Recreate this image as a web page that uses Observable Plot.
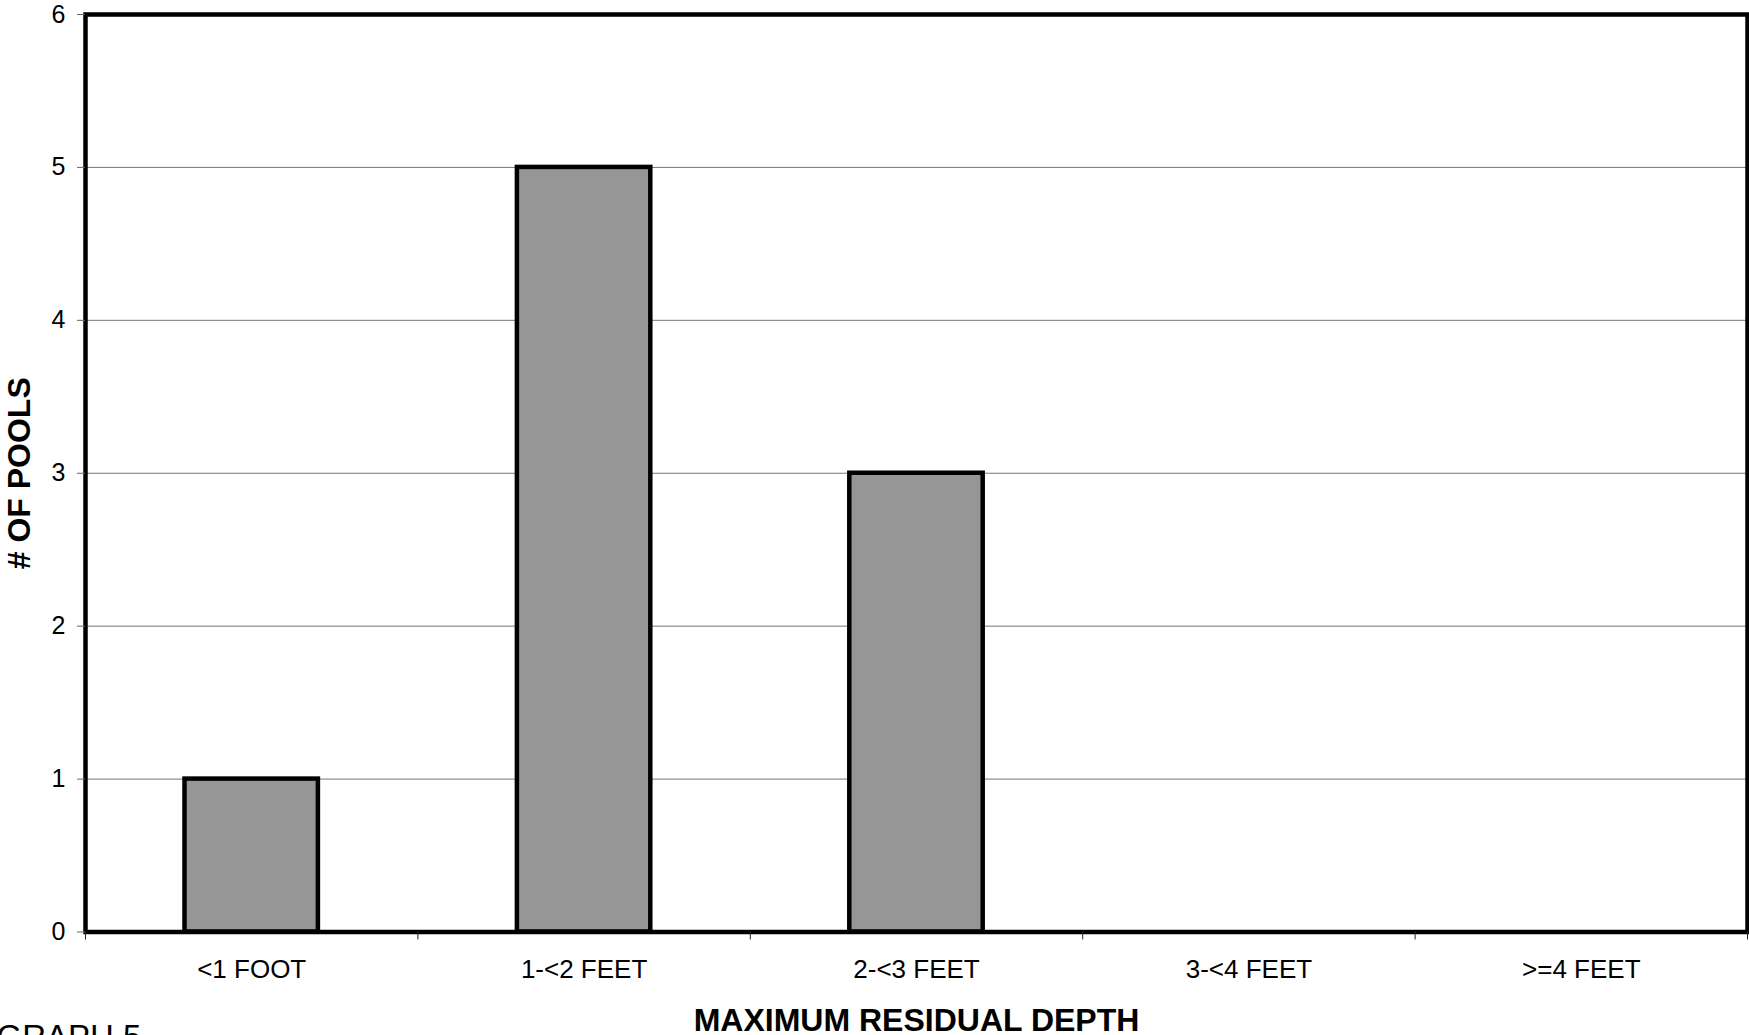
<!DOCTYPE html>
<html>
<head>
<meta charset="utf-8">
<script src="https://cdn.jsdelivr.net/npm/d3@7"></script>
<script src="https://cdn.jsdelivr.net/npm/@observablehq/plot@0.6"></script>
<style>
  html, body { margin: 0; padding: 0; background: #fff; overflow: hidden; }
  #chart svg { display: block; font-family: "Liberation Sans", Arial, sans-serif; }
</style>
</head>
<body>
<div id="chart"></div>
<script>
const categories = ["<1 FOOT", "1-<2 FEET", "2-<3 FEET", "3-<4 FEET", ">=4 FEET"];
const counts = [1, 5, 3, 0, 0];
const yTicks = [0, 1, 2, 3, 4, 5, 6];
const gridTicks = [1, 2, 3, 4, 5];
const xTitle = "MAXIMUM RESIDUAL DEPTH";
const yTitle = "# OF POOLS";
const caption = "GRAPH 5";

const data = categories.map((c, i) => ({cat: c, value: counts[i], i}));
const boundaries = d3.range(categories.length + 1);
const centers = categories.map((c, i) => i + 0.5);

const chart = Plot.plot({
  width: 1749,
  height: 1035,
  marginLeft: 85,
  marginRight: 2,
  marginTop: 14,
  marginBottom: 103.5,
  style: {fontFamily: '"Liberation Sans", Arial, sans-serif', background: "#fff", overflow: "visible"},
  x: {domain: [0, categories.length]},
  y: {domain: [0, 6]},
  marks: [
    Plot.ruleY(gridTicks, {stroke: "#777", strokeWidth: 1}),
    Plot.rectY(data, {
      x1: "i", x2: d => d.i + 1, y: "value",
      insetLeft: 99.5, insetRight: 99.5,
      fill: "#969696", stroke: "black", strokeWidth: 4.5
    }),
    Plot.frame({stroke: "black", strokeWidth: 4.5}),
    Plot.axisY({ticks: yTicks, tickSize: 8, tickPadding: 12, stroke: "#666", fill: "black", fontSize: 25,
      tickFormat: d3.format("d"), label: null}),
    Plot.axisX({ticks: boundaries, tickSize: 8, tickFormat: () => "", stroke: "#222", label: null}),
    Plot.axisX({ticks: centers, tickSize: 0, tickPadding: 28, fontSize: 26, fill: "black",
      tickFormat: d => categories[Math.floor(d)], label: null}),
    Plot.text([xTitle], {text: d => d, frameAnchor: "bottom", dy: 88.8, lineAnchor: "middle",
      textAnchor: "middle", fontSize: 32, fontWeight: "bold", fill: "black"}),
    Plot.text([yTitle], {text: d => d, frameAnchor: "left", dx: -65.5, rotate: -90, lineAnchor: "middle",
      textAnchor: "middle", fontSize: 32, fontWeight: "bold", fill: "black"}),
    Plot.text([caption], {text: d => d, frameAnchor: "bottom-left", dx: -89, dy: 93, lineAnchor: "top",
      textAnchor: "start", fontSize: 33, fill: "black"})
  ]
});
document.getElementById("chart").appendChild(chart);
</script>
</body>
</html>
